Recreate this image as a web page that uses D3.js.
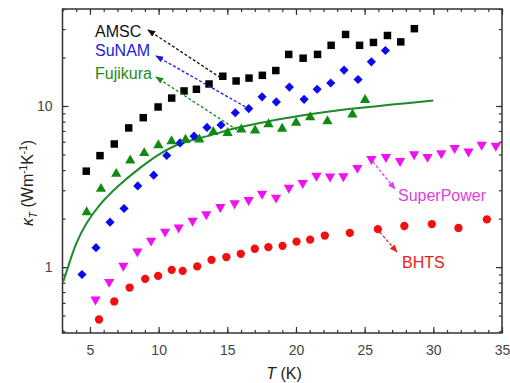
<!DOCTYPE html>
<html>
<head>
<meta charset="utf-8">
<script src="https://cdn.jsdelivr.net/npm/d3@7"></script>
<style>
  body { margin: 0; background: #fff; }
  svg { font-family: Arial, "Liberation Sans", sans-serif; }
</style>
</head>
<body>
<div id="chart"></div>
<script>
// ---- DATA ----
const amscT = [4.73, 5.73, 6.77, 7.82, 8.88, 9.96, 10.95, 11.85, 12.75, 13.67, 14.67, 15.64, 16.58, 17.55, 18.53, 19.47, 20.52, 21.57, 22.56, 23.61, 24.63, 25.64, 26.66, 27.63, 28.62];
const amscK = [3.94, 4.92, 5.81, 7.31, 8.46, 9.86, 11.2, 12.4, 12.7, 13.7, 15.3, 14.3, 14.9, 15.5, 16.6, 20.9, 19.8, 20.9, 23.8, 27.8, 23.8, 24.8, 27.4, 25.0, 30.2];

const sunamT = [4.42, 5.44, 6.46, 7.48, 8.48, 9.64, 10.59, 11.56, 12.58, 13.52, 14.54, 15.58, 16.56, 17.53, 18.57, 19.52, 20.59, 21.54, 22.53, 23.50, 24.52, 25.49, 26.51];
const sunamK = [0.90, 1.32, 1.90, 2.31, 3.19, 3.72, 4.93, 5.90, 6.50, 7.36, 7.62, 9.08, 9.64, 11.4, 10.6, 13.1, 11.0, 12.7, 13.9, 16.7, 14.6, 18.8, 22.1];

const fujiT = [4.76, 5.80, 6.91, 7.93, 8.95, 9.98, 10.94, 11.96, 12.96, 13.98, 15.02, 16.02, 17.02, 18.00, 18.99, 20.01, 21.03, 22.29, 24.11, 25.03];
const fujiK = [2.19, 3.06, 3.79, 4.59, 5.10, 5.71, 6.04, 6.18, 6.20, 6.90, 6.80, 7.15, 7.05, 7.70, 7.23, 7.88, 8.51, 8.04, 8.86, 10.9];

// fitted curve through the Fujikura data
const fitT = [3.05, 3.4, 4.0, 4.75, 5.75, 7.0, 8.6, 10.1, 11.6, 13.7, 15.5, 17.9, 20.3, 24, 27, 30];
const fitK = [0.81, 1.0, 1.4, 1.87, 2.45, 3.15, 4.1, 5.05, 5.85, 6.55, 7.25, 8.0, 8.7, 9.6, 10.2, 10.8];

const spT = [5.40, 6.40, 7.43, 8.45, 9.45, 10.47, 11.46, 12.47, 13.47, 14.49, 15.53, 16.55, 17.53, 18.55, 19.48, 20.49, 21.49, 22.48, 23.45, 24.47, 25.49, 26.55, 27.58, 28.60, 29.58, 30.58, 31.55, 32.56, 33.52, 34.55];
const spK = [0.63, 0.81, 1.02, 1.25, 1.46, 1.66, 1.76, 1.94, 2.13, 2.36, 2.49, 2.61, 2.85, 2.70, 3.11, 3.33, 3.69, 3.65, 3.66, 4.13, 4.69, 4.82, 4.55, 5.02, 4.83, 5.09, 5.49, 5.22, 5.75, 5.66];

const bhtsT = [5.66, 6.77, 7.89, 9.02, 9.96, 10.95, 11.75, 12.81, 13.85, 14.93, 15.98, 17.00, 17.99, 19.02, 20.04, 21.03, 22.10, 23.92, 25.96, 27.89, 29.89, 31.83, 33.90];
const bhtsK = [0.473, 0.612, 0.747, 0.846, 0.883, 0.962, 0.948, 1.01, 1.11, 1.155, 1.21, 1.30, 1.33, 1.355, 1.44, 1.48, 1.57, 1.63, 1.72, 1.80, 1.85, 1.75, 1.98];

const xTicks = [5, 10, 15, 20, 25, 30, 35];
const yTicks = [1, 10];

const width = 510;
const height = 383;

const svg = d3.select("#chart")
  .append("svg")
  .attr("width", width)
  .attr("height", height);

// ---- SCALES ----
const x = d3.scaleLinear().domain([3, 35]).range([62.5, 502]);
const y = d3.scaleLog().domain([0.39, 40]).range([333, 9]);

const axisColor = "#333";
const labelColor = "#444";

// minor ticks
const xMinor = d3.range(3, 36, 1);
const yMinor = [];
[0.1, 1, 10].forEach(dec => {
  for (let m = 1; m < 10; m++) {
    const v = dec * m;
    if (v >= 0.39 && v <= 40) yMinor.push(v);
  }
});

function styleAxis(g) {
  g.select(".domain").remove();
  g.selectAll("line").attr("stroke", axisColor).attr("stroke-width", 1.2);
  g.selectAll("text")
    .attr("fill", labelColor)
    .style("font-size", "14px");
}

// ---- AXES ----
// bottom
svg.append("g")
  .attr("transform", `translate(0,${y.range()[0]})`)
  .call(d3.axisBottom(x).tickValues(xMinor).tickSize(-3).tickFormat(""))
  .call(styleAxis);
svg.append("g")
  .attr("transform", `translate(0,${y.range()[0]})`)
  .call(d3.axisBottom(x).tickValues(xTicks).tickSize(-6).tickPadding(12).tickFormat(d3.format("d")))
  .call(styleAxis);
// top
svg.append("g")
  .attr("transform", `translate(0,${y.range()[1]})`)
  .call(d3.axisTop(x).tickValues(xMinor).tickSize(-3).tickFormat(""))
  .call(styleAxis);
svg.append("g")
  .attr("transform", `translate(0,${y.range()[1]})`)
  .call(d3.axisTop(x).tickValues(xTicks).tickSize(-6).tickFormat(""))
  .call(styleAxis);
// left
svg.append("g")
  .attr("transform", `translate(${x.range()[0]},0)`)
  .call(d3.axisLeft(y).tickValues(yMinor).tickSize(-3).tickFormat(""))
  .call(styleAxis);
svg.append("g")
  .attr("transform", `translate(${x.range()[0]},0)`)
  .call(d3.axisLeft(y).tickValues(yTicks).tickSize(-6).tickPadding(10).tickFormat(d3.format("d")))
  .call(styleAxis);
// right
svg.append("g")
  .attr("transform", `translate(${x.range()[1]},0)`)
  .call(d3.axisRight(y).tickValues(yMinor).tickSize(-3).tickFormat(""))
  .call(styleAxis);
svg.append("g")
  .attr("transform", `translate(${x.range()[1]},0)`)
  .call(d3.axisRight(y).tickValues(yTicks).tickSize(-6).tickFormat(""))
  .call(styleAxis);

// frame
svg.append("rect")
  .attr("x", x.range()[0])
  .attr("y", y.range()[1])
  .attr("width", x.range()[1] - x.range()[0])
  .attr("height", y.range()[0] - y.range()[1])
  .attr("fill", "none")
  .attr("stroke", axisColor)
  .attr("stroke-width", 1.5);

// ---- AXIS TITLES ----
const xt = svg.append("text")
  .attr("x", 284)
  .attr("y", 379)
  .attr("text-anchor", "middle")
  .attr("fill", "#222")
  .style("font-size", "16px");
xt.append("tspan").style("font-style", "italic").text("T");
xt.append("tspan").text(" (K)");

const yt = svg.append("text")
  .attr("transform", "translate(33,183) rotate(-90)")
  .attr("text-anchor", "middle")
  .attr("fill", "#222")
  .style("font-size", "16px");
yt.append("tspan").style("font-style", "italic").text("κ");
yt.append("tspan").attr("dy", 4).style("font-size", "10px").style("font-style", "italic").text("T");
yt.append("tspan").attr("dy", -4).text(" (Wm");
yt.append("tspan").attr("dy", -6).style("font-size", "10px").text("-1");
yt.append("tspan").attr("dy", 6).text("K");
yt.append("tspan").attr("dy", -6).style("font-size", "10px").text("-1");
yt.append("tspan").attr("dy", 6).text(")");

// ---- FIT LINE ----
const fit = fitT.map((t, i) => ({ t: t, k: fitK[i] }));
svg.append("path")
  .datum(fit)
  .attr("fill", "none")
  .attr("stroke", "#1d8a2a")
  .attr("stroke-width", 2)
  .attr("d", d3.line().x(d => x(d.t)).y(d => y(d.k)).curve(d3.curveCatmullRom));

// ---- MARKERS ----
// diamonds are squares turned 45 degrees (equal width and height)
const series = [
  { t: amscT, k: amscK, color: "#000", symbol: d3.symbolSquare, size: 56, rot: 0 },
  { t: sunamT, k: sunamK, color: "#0a0af0", symbol: d3.symbolSquare, size: 42, rot: 45 },
  { t: fujiT, k: fujiK, color: "#108a10", symbol: d3.symbolTriangle, size: 46, rot: 0 },
  { t: spT, k: spK, color: "#f010f0", symbol: d3.symbolTriangle, size: 46, rot: 180 },
  { t: bhtsT, k: bhtsK, color: "#f01010", symbol: d3.symbolCircle, size: 54, rot: 0 }
];

series.forEach(s => {
  const pts = s.t.map((t, i) => ({ t: t, k: s.k[i] }));
  svg.append("g")
    .selectAll("path")
    .data(pts)
    .enter()
    .append("path")
    .attr("d", d3.symbol().type(s.symbol).size(s.size))
    .attr("transform", d => `translate(${x(d.t)},${y(d.k)}) rotate(${s.rot})`)
    .attr("fill", s.color);
});

// ---- ANNOTATIONS ----
const notes = [
  { text: "AMSC", color: "#111", tx: 95, ty: 37, from: [14.5, 15.0], to: [148, 30] },
  { text: "SuNAM", color: "#1a1ae0", tx: 95, ty: 56, from: [16.3, 9.9], to: [156, 56] },
  { text: "Fujikura", color: "#1e8a1e", tx: 95, ty: 79, from: [15.7, 7.1], to: [156, 77] },
  { text: "SuperPower", color: "#e040e0", tx: 398, ty: 201, from: [25.6, 4.5], to: [395, 189] },
  { text: "BHTS", color: "#e82020", tx: 402, ty: 268, from: [26.1, 1.65], to: [397, 252] }
];

const defs = svg.append("defs");
notes.forEach((n, i) => {
  defs.append("marker")
    .attr("id", "arr" + i)
    .attr("viewBox", "0 0 10 10")
    .attr("refX", 9)
    .attr("refY", 5)
    .attr("markerWidth", 8)
    .attr("markerHeight", 8)
    .attr("markerUnits", "userSpaceOnUse")
    .attr("orient", "auto")
    .append("path")
    .attr("d", "M0,1 L10,5 L0,9 Z")
    .attr("fill", n.color);

  svg.append("line")
    .attr("x1", x(n.from[0]))
    .attr("y1", y(n.from[1]))
    .attr("x2", n.to[0])
    .attr("y2", n.to[1])
    .attr("stroke", n.color)
    .attr("stroke-width", 1.3)
    .attr("stroke-dasharray", "3,2")
    .attr("marker-end", `url(#arr${i})`);

  svg.append("text")
    .attr("x", n.tx)
    .attr("y", n.ty)
    .attr("fill", n.color)
    .style("font-size", "16px")
    .text(n.text);
});
</script>
</body>
</html>
